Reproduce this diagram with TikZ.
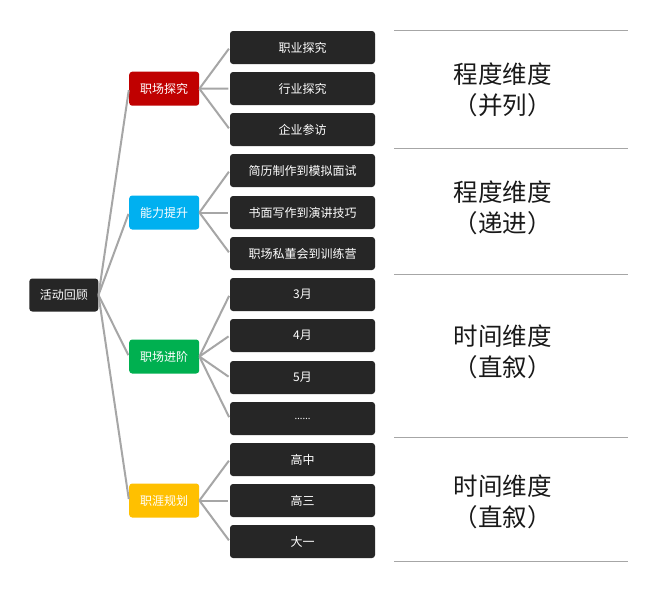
\documentclass[tikz,border=0pt]{standalone}
\usepackage{fontspec}
\setmainfont{Noto Sans CJK SC}
\newfontfamily\latinfont{Noto Sans}
\definecolor{leafc}{HTML}{262626}
\definecolor{redc}{HTML}{C00000}
\definecolor{bluec}{HTML}{00B0F0}
\definecolor{greenc}{HTML}{00B050}
\definecolor{yellowc}{HTML}{FFC000}
\definecolor{linec}{HTML}{A6A6A6}
\begin{document}
\begin{tikzpicture}[x=1pt,y=-1pt,
  box/.style={rounded corners=3pt, inner sep=0pt, text=white, font=\fontsize{12}{14}\selectfont, align=center},
  leaf/.style={box, fill=leafc, minimum width=145pt, minimum height=33pt},
  branch/.style={box, minimum width=70pt, minimum height=34pt},
  link/.style={draw=linec, line width=2pt, shorten >=1.5pt},
  divider/.style={draw=linec, line width=1.1pt},
  dimlabel/.style={font=\fontsize{24.5}{30.5}\selectfont, align=center, text=black!90}
]
\useasboundingbox (0,0) rectangle (660,590);
\fill[white] (0,0) rectangle (660,590);

\node[box, fill=leafc, minimum width=69pt, minimum height=33pt] (root) at (63.8,295) {活动回顾};

\node[branch, fill=redc] (b1) at (164.2,88.7) {职场探究};
\node[branch, fill=bluec] (b2) at (164.2,212.5) {能力提升};
\node[branch, fill=greenc] (b3) at (164.2,356.5) {职场进阶};
\node[branch, fill=yellowc] (b4) at (164.2,500.5) {职涯规划};

\node[leaf] (l1) at (302.5,47.5) {职业探究};
\node[leaf] (l2) at (302.5,88.5) {行业探究};
\node[leaf] (l3) at (302.5,129.5) {企业参访};
\node[leaf] (l4) at (302.5,170.5) {简历制作到模拟面试};
\node[leaf] (l5) at (302.5,212.5) {书面写作到演讲技巧};
\node[leaf] (l6) at (302.5,253.5) {职场私董会到训练营};
\node[leaf] (l7) at (302.5,294.5) {3月};
\node[leaf] (l8) at (302.5,335.5) {4月};
\node[leaf] (l9) at (302.5,377.5) {5月};
\node[leaf] (l10) at (302.5,418.5) {\latinfont\fontsize{10}{12}\selectfont ……};
\node[leaf] (l11) at (302.5,459.5) {高中};
\node[leaf] (l12) at (302.5,500.5) {高三};
\node[leaf] (l13) at (302.5,541.5) {大一};

\foreach \b in {b1,b2,b3,b4} \draw[link] (root.east) -- (\b.west);
\foreach \l in {l1,l2,l3} \draw[link] (b1.east) -- (\l.west);
\foreach \l in {l4,l5,l6} \draw[link] (b2.east) -- (\l.west);
\foreach \l in {l7,l8,l9,l10} \draw[link] (b3.east) -- (\l.west);
\foreach \l in {l11,l12,l13} \draw[link] (b4.east) -- (\l.west);

\foreach \y in {30.7,148.3,274.3,437.3,561.7} \draw[divider] (394,\y) -- (628,\y);

\node[dimlabel] (d1) at (502.5,90) {程度维度\\（并列）};
\node[dimlabel] (d2) at (502.5,208) {程度维度\\（递进）};
\node[dimlabel] (d3) at (502.5,352) {时间维度\\（直叙）};
\node[dimlabel] (d4) at (502.5,502) {时间维度\\（直叙）};
\end{tikzpicture}
\end{document}
